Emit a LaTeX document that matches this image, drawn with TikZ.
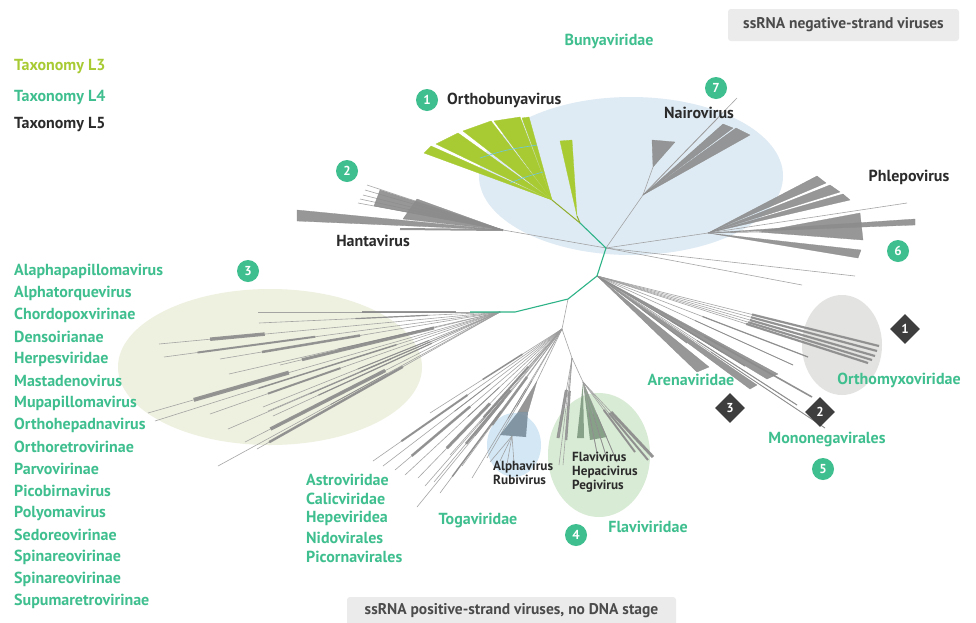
\documentclass[tikz,border=0pt]{standalone}
\usepackage{fontspec}
\setmainfont{PT Sans}
\usetikzlibrary{shapes.geometric,calc}
\definecolor{teal4}{HTML}{3FBF8F}
\definecolor{lime3}{HTML}{A8CB34}
\definecolor{ink}{HTML}{2B2B2B}
\definecolor{brgray}{HTML}{9C9C9C}
\definecolor{wdgray}{HTML}{8C8C8C}
\definecolor{rootgreen}{HTML}{2DB387}
\definecolor{bunyablue}{HTML}{DFEBF4}
\definecolor{olivebg}{HTML}{EEF1E0}
\definecolor{togablue}{HTML}{D3E7F5}
\definecolor{flavigreen}{HTML}{D8EBD4}
\definecolor{orthogray}{HTML}{E3E4E1}
\definecolor{boxgray}{HTML}{EBEBEB}
\definecolor{darkmark}{HTML}{3E3E3E}
\definecolor{tickcyan}{HTML}{6CC6E0}
\definecolor{togawedge}{HTML}{7A8D9B}
\definecolor{flaviwedge}{HTML}{7F9A80}
\newcommand{\lblfont}{\fontsize{16}{18}\selectfont\bfseries}
\newcommand{\smlfont}{\fontsize{13.2}{15}\selectfont\bfseries}
\newcommand{\boxfont}{\fontsize{15.5}{17}\selectfont\bfseries}
\begin{document}
\begin{tikzpicture}[x=1pt,y=-1pt,
  br/.style={draw=brgray,line width=0.6pt,opacity=0.9},
  band/.style={draw=wdgray,line width=#1,opacity=0.9},
  wedge/.style={fill=wdgray,draw=wdgray,line width=0.3pt,line join=round,opacity=0.9},
  limewedge/.style={fill=lime3,draw=lime3,line width=0.3pt,line join=round},
  rootline/.style={draw=rootgreen,line width=1.1pt,line join=round},
  limeline/.style={draw=lime3!85!black,line width=1pt},
  fam/.style={text=teal4,font=\lblfont,inner sep=0pt},
  genus/.style={text=ink,font=\lblfont,inner sep=0pt},
  small/.style={text=ink,font=\smlfont,inner sep=0pt,align=left},
  numc/.style={circle,fill=teal4,text=white,minimum size=22pt,inner sep=0pt,font=\fontsize{13}{13}\selectfont\bfseries},
  numd/.style={diamond,aspect=1,fill=darkmark,text=white,minimum size=30pt,inner sep=0pt,font=\fontsize{13}{13}\selectfont\bfseries},
  groupbox/.style={fill=boxgray,rounded corners=3pt,text=ink!85,font=\boxfont,inner sep=0pt}]
\useasboundingbox (0,0) rectangle (976,622);
\fill[white] (0,0) rectangle (976,622);

% ---------- background highlight ellipses ----------
\fill[bunyablue] (631,176) ellipse [x radius=152, y radius=79];
\fill[olivebg] (270,367) ellipse [x radius=152, y radius=78];
\fill[togablue] (514,445) ellipse [x radius=27, y radius=32];
\fill[flavigreen] (599,455) ellipse [x radius=51, y radius=62];
\fill[orthogray] (842,345) ellipse [x radius=40, y radius=50];

% ---------- internal nodes of the tree ----------
\coordinate (r0) at (606,248);
\coordinate (ob0) at (580,223);
\coordinate (ob) at (552,200);
\coordinate (ob2) at (577,216);
\coordinate (r1) at (597,276);
\coordinate (r2) at (568,299);
\coordinate (r3) at (515,312);
\coordinate (g3) at (470,312);
\coordinate (c3) at (500,312);
\coordinate (ast) at (562,329);
\coordinate (fl) at (572,358);
\coordinate (fl2) at (583,382);
\coordinate (tg) at (537,381);
\coordinate (tgb) at (512,436);
\coordinate (ha) at (503,230);
\coordinate (nv) at (643,195);
\coordinate (nv2) at (653,167);
\coordinate (ph) at (708,233);
\coordinate (ph2) at (758,232);

% ---------- cluster 3 (DNA and dsRNA groups) ----------
\foreach \ex/\ey/\ta/\tb/\bw in {
  258/312/0.18/0.57/2.2, 259/323/0.3/0.6/1.2, 159/344/0.69/0.85/3.5,
  164/357/0.55/0.9/2, 220/359/0.5/0.85/2.5, 229/374/0.3/0.6/1,
  148/413/0.6/0.87/4, 155/421/0.3/0.7/1.5, 210/414/0.55/0.8/2,
  228/429/0.4/0.7/1, 245/442/0.45/0.9/3.5, 218/466/0.4/0.6/0.8,
  257/449/0.4/0.95/2.5, 263/407/0.3/0.6/1, 268/411/0.3/0.6/1,
  273/416/0.3/0.8/1.2, 280/365/0.3/0.9/3}{
  \draw[br] (c3) -- (\ex,\ey);
  \draw[band=\bw pt] ($(c3)!\ta!(\ex,\ey)$) -- ($(c3)!\tb!(\ex,\ey)$);
}

% ---------- Astroviridae / Picornavirales fan ----------
\draw[br] (r2) -- (ast);
\foreach \ex/\ey/\ta/\tb/\bw in {
  430/413/0.3/0.6/1.5, 373/461/0.5/0.85/2, 383/466/0.4/0.6/0.8,
  395/470/0.55/0.9/2.5, 405/475/0.4/0.6/0.8, 418/478/0.5/0.8/3,
  425/486/0.4/0.6/0.8, 434/482/0.4/0.75/2.5, 417/507/0.4/0.6/0.8,
  450/455/0.3/0.7/2, 462/466/0.35/0.7/2.5, 472/478/0.4/0.6/0.8,
  440/493/0.5/0.9/1.5, 487/458/0.4/0.6/0.7}{
  \draw[br] (ast) -- (\ex,\ey);
  \draw[band=\bw pt] ($(ast)!\ta!(\ex,\ey)$) -- ($(ast)!\tb!(\ex,\ey)$);
}

% ---------- Togaviridae ----------
\draw[br] (ast) -- (tg);
\fill[wedge] (tg) -- (528,412) -- (518,412) -- cycle;
\fill[togawedge,opacity=0.9] (518,412) -- (528,412) -- (526,437) -- (500,435) -- cycle;
\foreach \ex/\ey in {490/462, 500/461, 507/464, 514/463}
  \draw[br] (tgb) -- (\ex,\ey);

% ---------- Flaviviridae ----------
\draw[br] (ast) -- (fl) -- (fl2);
\draw[band=3pt] ($(fl)!0.4!(558,438)$) -- (558,438);
\draw[band=2.5pt] ($(fl)!0.4!(566,440)$) -- (566,440);
\draw[br] (fl) -- (558,438); \draw[br] (fl) -- (566,440);
\draw[br] (fl) -- (559,465); \draw[br] (fl) -- (563,465);
\fill[flaviwedge,opacity=0.9] (fl2) -- (584,438) -- (577,438) -- cycle;
\fill[flaviwedge,opacity=0.9] (fl2) -- (607,437) -- (590,440) -- cycle;
\foreach \ex/\ey/\bw in {653/457/3, 648/460/2, 635/452/2, 617/462/0.7, 608/462/0.7, 598/458/0.7}{
  \draw[br] (fl2) -- (\ex,\ey);
  \draw[band=\bw pt] ($(fl2)!0.4!(\ex,\ey)$) -- (\ex,\ey);
}

% ---------- Arenaviridae / Mononegavirales / Orthomyxoviridae ----------
\foreach \ex/\ey in {879/346, 877/351, 875/356, 872/360, 868/363}{
  \draw[br] (r1) -- (\ex,\ey);
  \draw[band=2.2pt] ($(r1)!0.55!(\ex,\ey)$) -- (\ex,\ey);
}
\foreach \ex/\ey/\bw in {808/357/1.2, 793/365/0.8, 812/397/1.6, 797/405/1, 825/428/0.8, 687/343/0.8, 722/352/1, 745/366/1.2}{
  \draw[br] (r1) -- (\ex,\ey);
  \draw[band=\bw pt] ($(r1)!0.5!(\ex,\ey)$) -- (\ex,\ey);
}
\fill[wedge] (r1) -- (709,367) -- (697,372) -- cycle;
\fill[wedge] (r1) -- (757,385) -- (750,389) -- cycle;
\fill[wedge] (r1) -- (778,374) -- (767,379) -- cycle;

% ---------- Phlebovirus ----------
\draw[br] (r0) -- (ph);
\draw[br] (r0) -- (855,276);
\draw[br] (r0) -- (802,285);
\fill[wedge] (ph) -- (817,176) -- (826,183) -- cycle;
\fill[wedge] (ph) -- (830,185) -- (840,192) -- cycle;
\fill[wedge] (ph) -- (843,194) -- (850,200) -- cycle;
\draw[br] (ph) -- (907,203);
\draw[br] (ph) -- (ph2);
\fill[wedge] (ph2) -- (860,213) -- (863,240) -- cycle;
\fill[wedge] (ph) -- (915,219) -- (915,225) -- cycle;
\fill[wedge] (ph) -- (861,250) -- (858,258) -- cycle;

% ---------- Nairovirus ----------
\draw[br] (r0) -- (nv);
\draw[br] (nv) -- (nv2);
\fill[wedge] (nv2) -- (652,140) -- (675,142) -- cycle;
\draw[br] (nv) -- (737,98);
\draw[br] (nv) -- (718,118);
\fill[wedge] (nv) -- (723,124) -- (733,128) -- cycle;
\fill[wedge] (nv) -- (736,128) -- (750,135) -- cycle;

% ---------- Hantavirus ----------
\draw[br] (r0) -- (ha);
\fill[wedge] (ha) -- (297,210) -- (297,221) -- cycle;
\foreach \ex/\ey in {367/185, 365/190, 363/195, 360/199, 358/203}
  \draw[br] (ha) -- (\ex,\ey);
\fill[wedge] (ha) -- (380,190) -- (374,206) -- cycle;
\fill[wedge] (ha) -- (417,199) -- (403,219) -- cycle;
\draw[band=2pt] (ha) -- (400,229);

% ---------- Orthobunyavirus ----------
\draw[limeline] (ob0) -- (ob);
\draw[limeline] (ob0) -- (ob2);
\fill[limewedge] (ob) -- (424,153) -- (431,146) -- cycle;
\fill[limewedge] (ob) -- (436,144) -- (458,133) -- cycle;
\fill[limewedge] (ob) -- (463,131) -- (491,121) -- cycle;
\fill[limewedge] (ob) -- (494,121) -- (520,117) -- cycle;
\fill[limewedge] (ob) -- (522,118) -- (529,117) -- cycle;
\fill[limewedge] (ob2) -- (560,141) -- (572,140) -- cycle;
\draw[tickcyan,line width=0.6pt] (480,158) .. controls (505,150) .. (537,145);
\draw[tickcyan,line width=0.6pt] (510,183) .. controls (525,177) .. (543,172);

% ---------- root path ----------
\draw[rootline] (g3) -- (r3) -- (r2) -- (r1) -- (r0) -- (ob0);

% ---------- legend ----------
\node[anchor=west,text=lime3,font=\lblfont,inner sep=0pt] (legL3) at (14,67) {Taxonomy L3};
\node[anchor=west,fam] (legL4) at (14,97) {Taxonomy L4};
\node[anchor=west,genus] (legL5) at (14,125) {Taxonomy L5};

% ---------- group boxes ----------
\node[groupbox,minimum width=231pt,minimum height=32pt] (negbox) at (843.5,25) {ssRNA negative-strand viruses};
\fill[boxgray,rounded corners=3pt] (347,597) rectangle (676,640);
\node[text=ink!85,font=\boxfont,inner sep=0pt] (posbox) at (511.5,611) {ssRNA positive-strand viruses, no DNA stage};

% ---------- labels ----------
\node[fam] (bunya) at (609,41) {Bunyaviridae};
\node[numc] (n1) at (427,100) {1};
\node[genus,anchor=west] (orthob) at (447,100) {Orthobunyavirus};
\node[numc] (n7) at (716,88) {7};
\node[genus] (nairo) at (699,113) {Nairovirus};
\node[numc] (n2) at (347,171) {2};
\node[genus] (hanta) at (373,241) {Hantavirus};
\node[genus] (phlebo) at (909,177) {Phlepovirus};
\node[numc] (n6) at (898,251) {6};
\node[numc] (n3) at (248,271) {3};

\foreach \t [count=\i from 0] in {Alaphapapillomavirus, Alphatorquevirus, Chordopoxvirinae, Densoirianae, Herpesviridae, Mastadenovirus, Mupapillomavirus, Orthohepadnavirus, Orthoretrovirinae, Parvovirinae, Picobirnavirus, Polyomavirus, Sedoreovirinae, Spinareovirinae, Spinareovirinae, Supumaretrovirinae}
  \node[fam,anchor=west] (dna\i) at (14,271+22*\i) {\t};

\node[numd] (d1) at (905,329) {1};
\node[fam] (orthomyxo) at (899,380) {Orthomyxoviridae};
\node[fam] (arena) at (691,380) {Arenaviridae};
\node[numd] (d3) at (730,408) {3};
\node[numd] (d2) at (820,412) {2};
\node[fam] (monon) at (827,439) {Mononegavirales};
\node[numc] (n5) at (823,469) {5};

\node[small,anchor=north west] (toga) at (493,461) {Alphavirus\\[-1pt]Rubivirus};
\node[small,anchor=north west] (flavi) at (572,452) {Flavivirus\\[-1pt]Hepacivirus\\[-1pt]Pegivirus};

\foreach \t [count=\i from 0] in {Astroviridae, Calicviridae, Hepeviridea, Nidovirales, Picornavirales}
  \node[fam,anchor=west] (pos\i) at (306,480+19.2*\i) {\t};
\node[fam] (togav) at (478,520) {Togaviridae};
\node[numc] (n4) at (576,535) {4};
\node[fam] (flaviv) at (648,527) {Flaviviridae};
\end{tikzpicture}
\end{document}
